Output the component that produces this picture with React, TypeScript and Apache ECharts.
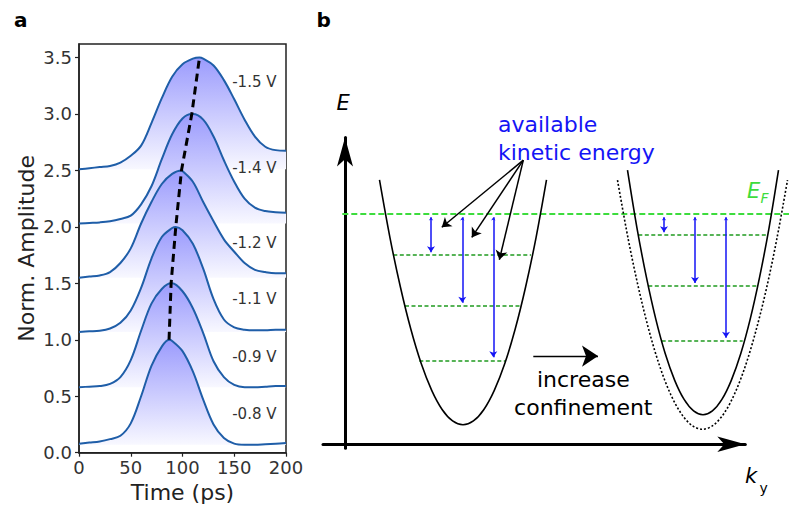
import React, { useEffect, useRef } from 'react';
import * as echarts from 'echarts';

// ---------- Panel a data ----------
const times = [0, 10, 20, 30, 40, 50, 60, 70, 80, 90, 100, 110, 120, 130, 140, 150, 160, 170, 180, 190, 200];
const biasLabels = ['-0.8 V', '-0.9 V', '-1.1 V', '-1.2 V', '-1.4 V', '-1.5 V'];
const pulse08 = [0.08, 0.09, 0.10, 0.12, 0.15, 0.26, 0.50, 0.77, 0.94, 0.99, 0.90, 0.72, 0.47, 0.25, 0.13, 0.08, 0.07, 0.07, 0.075, 0.08, 0.085];
const pulse09 = [0.58, 0.585, 0.59, 0.61, 0.67, 0.82, 1.08, 1.32, 1.45, 1.50, 1.43, 1.28, 1.06, 0.81, 0.67, 0.60, 0.58, 0.58, 0.585, 0.59, 0.59];
const pulse11 = [1.07, 1.075, 1.08, 1.10, 1.15, 1.26, 1.46, 1.72, 1.91, 1.99, 1.97, 1.85, 1.63, 1.36, 1.18, 1.11, 1.09, 1.085, 1.085, 1.09, 1.09];
const pulse12 = [1.55, 1.56, 1.57, 1.60, 1.68, 1.81, 2.03, 2.22, 2.38, 2.47, 2.495, 2.40, 2.22, 2.05, 1.89, 1.78, 1.68, 1.62, 1.60, 1.59, 1.59];
const pulse14 = [2.03, 2.035, 2.04, 2.05, 2.07, 2.10, 2.20, 2.36, 2.60, 2.82, 2.96, 3.00, 2.95, 2.80, 2.59, 2.40, 2.25, 2.17, 2.14, 2.13, 2.125];
const pulse15 = [2.51, 2.52, 2.53, 2.54, 2.57, 2.63, 2.72, 2.92, 3.14, 3.33, 3.44, 3.49, 3.49, 3.43, 3.30, 3.13, 2.95, 2.80, 2.71, 2.68, 2.675];
const pulses = [pulse08, pulse09, pulse11, pulse12, pulse14, pulse15];
const peakTimes = [87, 89, 93.5, 99, 109, 116.4];
const peakAmps = [1.0, 1.5, 2.0, 2.5, 3.0, 3.5];
const timeTicks = [0, 50, 100, 150, 200];

// ---------- Panel b data (schematic units: k, E) ----------
const bandWide = [[3.45, 26.45], [4.49, 20.71], [5.54, 15.74], [6.58, 11.53], [7.62, 8.08], [8.67, 5.40], [9.71, 3.49], [10.76, 2.34], [11.8, 1.96], [12.84, 2.34], [13.89, 3.49], [14.93, 5.40], [15.98, 8.08], [17.02, 11.53], [18.06, 15.74], [19.11, 20.71], [20.15, 26.45]];
const bandNarrow = [[28.25, 27.43], [29.19, 21.69], [30.14, 16.72], [31.08, 12.52], [32.02, 9.08], [32.97, 6.40], [33.91, 4.49], [34.86, 3.34], [35.8, 2.96], [36.74, 3.34], [37.69, 4.49], [38.63, 6.40], [39.58, 9.08], [40.52, 12.52], [41.46, 16.72], [42.41, 21.69], [43.35, 27.43]];
const bandOriginal = [[27.25, 26.43], [28.31, 20.59], [29.38, 15.52], [30.44, 11.24], [31.5, 7.73], [32.56, 5.01], [33.63, 3.06], [34.69, 1.89], [35.75, 1.5], [36.81, 1.89], [37.88, 3.06], [38.94, 5.01], [40.0, 7.73], [41.06, 11.24], [42.13, 15.52], [43.19, 20.59], [44.25, 26.43]];
const fermiLevel = 23.03;
const fermiSpan = [-0.27, 44.4];
const leftLevels = [18.93, 13.86, 8.4];
const leftLevelSpans = [[4.83, 18.6], [6.0, 17.67], [7.43, 16.0]];
const rightLevels = [20.93, 15.83, 10.36];
const rightLevelSpans = [[29.33, 42.17], [30.33, 41.17], [31.67, 39.77]];
const leftArrowK = [8.6, 11.73, 14.83];
const rightArrowK = [31.9, 35.0, 38.1];
const pointerFrom = [17.83, 28.43];
const pointerTo = [[9.33, 21.43], [12.43, 20.33], [15.33, 18.03]];
const confineArrow = [[18.83, 8.83], [26.1, 8.83]];

const FONT = '"DejaVu Sans", Verdana, sans-serif';

function shorten(p1: number[], p2: number[], d1: number, d2: number) {
  const dx = p2[0] - p1[0];
  const dy = p2[1] - p1[1];
  const L = Math.hypot(dx, dy);
  const ux = dx / L, uy = dy / L;
  return [[p1[0] + ux * d1, p1[1] + uy * d1], [p2[0] - ux * d2, p2[1] - uy * d2]];
}

function buildOption() {
  const fill = new echarts.graphic.LinearGradient(0, 0, 0, 1, [
    { offset: 0, color: '#9b9bfd' },
    { offset: 1, color: '#f8f8ff' },
  ]);

  const pulseSeries: any[] = [];
  for (let i = pulses.length - 1; i >= 0; i--) {
    const vals = pulses[i];
    const pts = times.map((t, j) => [t, vals[j]]);
    pts.push([peakTimes[i], peakAmps[i]]);
    pts.sort((a, b) => a[0] - b[0]);
    pulseSeries.push({
      type: 'line', xAxisIndex: 0, yAxisIndex: 0, data: pts, smooth: 0.35,
      symbol: 'none', showSymbol: false,
      lineStyle: { color: '#1f5ea8', width: 2 },
      areaStyle: { origin: Math.min(...vals), color: fill, opacity: 1 },
      z: 2,
    });
  }
  const peakLine = {
    type: 'line', xAxisIndex: 0, yAxisIndex: 0,
    data: peakTimes.map((t, i) => [t, peakAmps[i]]),
    symbol: 'none', lineStyle: { color: '#000', width: 3, type: [8, 5] }, z: 5,
  };

  const bandLine = (data: number[][], lineStyle: any) => ({
    type: 'line', xAxisIndex: 2, yAxisIndex: 2, data, smooth: 0.33, symbol: 'none',
    clip: false, lineStyle, z: 4,
  });
  const linesSeries = (data: any[], lineStyle: any, symbol: string[], symbolSize: any, z = 3) => ({
    type: 'lines', coordinateSystem: 'cartesian2d', xAxisIndex: 2, yAxisIndex: 2, clip: false,
    data, lineStyle: { opacity: 1, curveness: 0, ...lineStyle }, symbol, symbolSize, z, silent: true,
  });

  const levelData = [
    ...leftLevels.map((y, i) => ({ coords: [[leftLevelSpans[i][0], y], [leftLevelSpans[i][1], y]] })),
    ...rightLevels.map((y, i) => ({ coords: [[rightLevelSpans[i][0], y], [rightLevelSpans[i][1], y]] })),
  ];
  const blueArrowData = [
    ...leftArrowK.map((k, i) => ({ coords: shorten([k, fermiLevel], [k, leftLevels[i]], 0.3, 0.3) })),
    ...rightArrowK.map((k, i) => ({ coords: shorten([k, fermiLevel], [k, rightLevels[i]], 0.3, 0.3) })),
  ];
  const pointerData = pointerTo.map((p) => ({ coords: shorten(pointerFrom, p, 0, 0.45) }));

  const txt = (text: string, x: number, y: number, extra: any = {}) => ({
    type: 'text', x, y, z: 20,
    style: { text, fontFamily: FONT, fontSize: 22, fill: '#000', align: 'left', verticalAlign: 'middle', ...extra },
  });

  const labelY = [414, 356.7, 299.3, 242.7, 167.7, 81.7];
  const hiddenAxis = { show: false, splitLine: { show: false } };

  return {
    animation: false,
    backgroundColor: '#fff',
    grid: [
      { left: 79, right: 503, top: 44, bottom: 60.3, show: true, borderColor: '#222', borderWidth: 1.5, backgroundColor: 'transparent', outerBoundsMode: 'none' },
      { left: 323, right: 43.7, top: 137.5, bottom: 64.7, show: false, outerBoundsMode: 'none' },
      { left: 323, right: 0, top: 137.5, bottom: 64.7, show: false, outerBoundsMode: 'none' },
    ],
    xAxis: [
      {
        gridIndex: 0, type: 'value', min: timeTicks[0], max: timeTicks[timeTicks.length - 1], interval: 50,
        name: 'Time (ps)', nameLocation: 'middle', nameGap: 28,
        nameTextStyle: { fontFamily: FONT, fontSize: 22, color: '#222' },
        axisLine: { show: true, onZero: false, lineStyle: { color: '#222', width: 1.5 } },
        axisTick: { show: true, inside: false, length: 4, lineStyle: { color: '#222', width: 1.2 } },
        axisLabel: { fontFamily: FONT, fontSize: 18, color: '#333', margin: 6 },
        splitLine: { show: false },
      },
      {
        gridIndex: 1, type: 'value', min: -2.2, max: 40,
        axisLine: { show: true, onZero: true, symbol: ['none', 'arrow'], symbolSize: [11.7, 28], lineStyle: { color: '#000', width: 3 } },
        axisTick: { show: false }, axisLabel: { show: false }, splitLine: { show: false },
      },
      { gridIndex: 2, type: 'value', min: -2.2, max: 44.4, ...hiddenAxis },
    ],
    yAxis: [
      {
        gridIndex: 0, type: 'value', min: 0, max: 3.62, interval: 0.5,
        name: 'Norm. Amplitude', nameLocation: 'middle', nameGap: 42,
        nameTextStyle: { fontFamily: FONT, fontSize: 22, color: '#222' },
        axisLine: { show: true, onZero: false, lineStyle: { color: '#222', width: 1.5 } },
        axisTick: { show: true, inside: false, length: 4, lineStyle: { color: '#222', width: 1.2 } },
        axisLabel: { fontFamily: FONT, fontSize: 18, color: '#333', margin: 7, showMaxLabel: false, formatter: (v: number) => v.toFixed(1) },
        splitLine: { show: false },
      },
      {
        gridIndex: 1, type: 'value', min: -0.4, max: 30.7,
        axisLine: { show: true, onZero: true, symbol: ['none', 'arrow'], symbolSize: [12, 29], lineStyle: { color: '#000', width: 3 } },
        axisTick: { show: false }, axisLabel: { show: false }, splitLine: { show: false },
      },
      { gridIndex: 2, type: 'value', min: -0.4, max: 30.7, ...hiddenAxis },
    ],
    series: [
      ...pulseSeries,
      peakLine,
      bandLine(bandWide, { color: '#000', width: 1.6 }),
      bandLine(bandNarrow, { color: '#000', width: 1.6 }),
      bandLine(bandOriginal, { color: '#000', width: 1.6, type: [2, 2] }),
      linesSeries([{ coords: [[fermiSpan[0], fermiLevel], [fermiSpan[1], fermiLevel]] }], { color: '#3ddc3d', width: 2, type: [6, 3] }, ['none', 'none'], 1, 3),
      linesSeries(levelData, { color: '#1f9a1f', width: 1.6, type: [4, 2.5] }, ['none', 'none'], 1, 3),
      linesSeries(blueArrowData, { color: '#1414f5', width: 1.5 }, ['arrow', 'arrow'], [3.3, 6], 5),
      linesSeries(pointerData, { color: '#000', width: 1.5 }, ['none', 'arrow'], [6, 9], 5),
      linesSeries([{ coords: shorten(confineArrow[0], confineArrow[1], 0, 0.8) }], { color: '#000', width: 1.4 }, ['none', 'arrow'], [6, 16], 5),
    ],
    graphic: [
      txt('a', 14, 20, { fontSize: 20, fontWeight: 'bold' }),
      txt('b', 316.5, 20, { fontSize: 20, fontWeight: 'bold' }),
      ...biasLabels.map((s, i) => txt(s, 276.5, labelY[i], { fontSize: 15, fill: '#333', align: 'right' })),
      txt('E', 336.5, 102.8, { fontSize: 21, fontStyle: 'italic' }),
      txt('available', 498, 124, { fill: '#1414f5' }),
      txt('kinetic energy', 498, 152.3, { fill: '#1414f5' }),
      txt('increase', 583.3, 379, { align: 'center' }),
      txt('confinement', 583.3, 407.3, { align: 'center' }),
      txt('E', 747, 190.8, { fontSize: 21, fontStyle: 'italic', fill: '#3ddc3d' }),
      txt('F', 760.5, 198.4, { fontSize: 14, fontStyle: 'italic', fill: '#3ddc3d' }),
      txt('k', 745, 476, { fontSize: 21, fontStyle: 'italic' }),
      txt('y', 759.5, 487.6, { fontSize: 14 }),
    ],
  };
}

export default function App() {
  const ref = useRef<HTMLDivElement>(null);
  useEffect(() => {
    const chart = echarts.init(ref.current!, null, { renderer: 'svg' });
    chart.setOption(buildOption() as any);
    return () => chart.dispose();
  }, []);
  return (
    <div
      ref={ref}
      style={{ position: 'absolute', left: 0, top: 0, width: 789, height: 513, background: '#fff' }}
    />
  );
}
